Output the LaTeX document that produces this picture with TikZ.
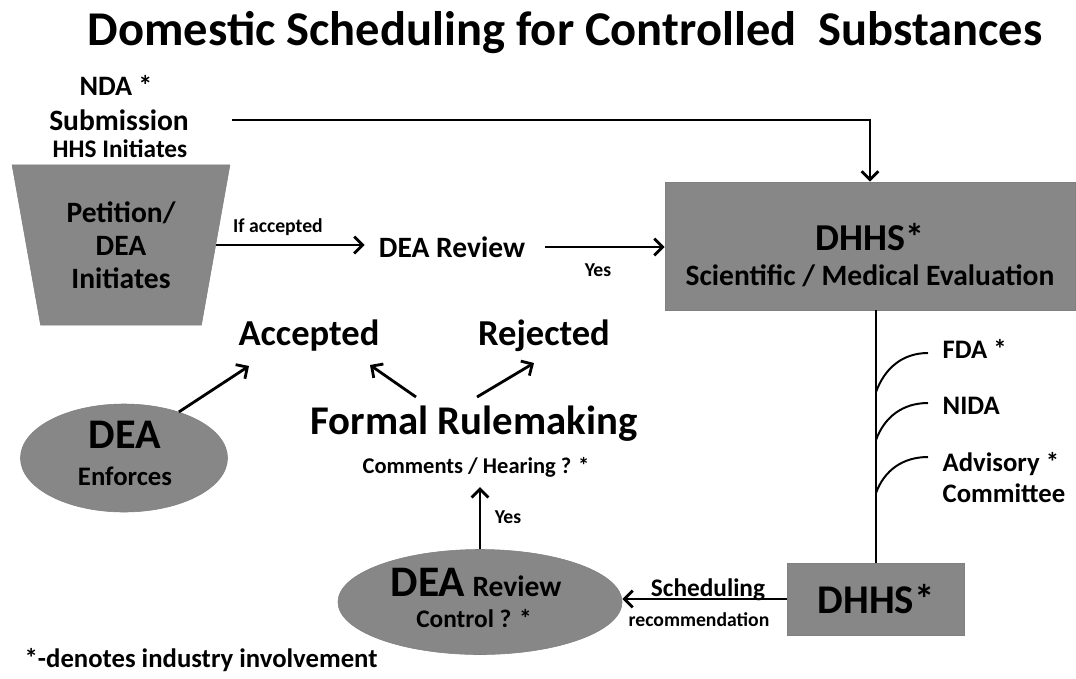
\documentclass[tikz,border=0pt]{standalone}
\usepackage{fontspec}
\setmainfont{Carlito}
\usetikzlibrary{calc}
\usetikzlibrary{shapes.geometric}
\usetikzlibrary{arrows.meta}
\definecolor{screen-gray}{gray}{0.53}
\newcommand{\fsz}[1]{\fontsize{#1pt}{#1pt}\selectfont\bfseries}
\tikzstyle{lbl}=[inner sep=1pt,font=\bfseries]
\tikzstyle{shaded}=[fill=screen-gray,draw=black!50,line width=0.4pt,inner sep=0pt]
\tikzstyle{flow}=[line width=2pt,-{Straight Barb[length=6pt,width=12pt,line width=2pt]}]
\tikzstyle{branch}=[line width=1.4pt]

\begin{document}
\begin{tikzpicture}[x=0.025cm,y=-0.025cm]
\useasboundingbox (0,0) rectangle (1076,678);
% title
\node[lbl,anchor=base] (title) at (565,45) {\fsz{34.5}Domestic Scheduling for Controlled\ \ Substances};
% NDA route
\node[lbl] (nda) at (116,85) {\fsz{20}NDA *};
\node[lbl] (subm) at (119,120) {\fsz{21}Submission};
\node[lbl] (hhs) at (120,149) {\fsz{18}HHS Initiates};
% petition
\node[shaded,trapezium,shape border rotate=180,trapezium stretches=true,
  minimum width=5.45cm,minimum height=4cm,trapezium angle=77.5,align=center,
  font={\fontsize{21pt}{23.5pt}\selectfont\bfseries}] (petition) at (121,245) {Petition/\\DEA\\Initiates};
\node[lbl] (dearev) at (452,247) {\fsz{21}DEA Review};
\node[lbl] (ifacc) at (278,227) {\fsz{14}If accepted};
\draw[flow,shorten >=9pt] (petition.east) -- (petition.east -| dearev.west);
% scientific evaluation
\node[shaded,minimum width=10.25cm,minimum height=3.2cm] (dhhsA) at (870,246) {};
\node[lbl] (dhhsA-t) at (870,237) {\fsz{27}DHHS*};
\node[lbl] (dhhsA-s) at (870,276) {\fsz{21}Scientific / Medical Evaluation};
\draw[flow,shorten <=13pt] (dearev.east) -- (dearev.east -| dhhsA.west);
\node[lbl] (yes1) at (598,270) {\fsz{14}Yes};
\draw[flow] ([xshift=1.05cm]subm.east) -| (dhhsA.north);
% recommendation
\node[shaded,minimum width=4.425cm,minimum height=1.8cm] (dhhsB) at (876,599) {\fsz{29}DHHS*};
\draw[line width=2pt] (dhhsA.south -| dhhsB.north) -- (dhhsB.north);
% agencies on the trunk
\coordinate (b-fda) at (876,392);
\coordinate (b-nida) at (876,440);
\coordinate (b-adv) at (876,493);
\node[lbl,anchor=west] (fda) at (941,349) {\fsz{19}FDA *};
\node[lbl,anchor=west] (nida) at (941,406) {\fsz{19}NIDA};
\node[lbl,anchor=west] (adv) at (941,464) {\fsz{19}Advisory *};
\node[lbl,anchor=west] (comm) at (941,493) {\fsz{19}Committee};
\draw[branch] (b-fda) to[out=70,in=180] ($(fda.west)+(-13,4)$);
\draw[branch] (b-nida) to[out=70,in=180] ($(nida.west)+(-13,-3)$);
\draw[branch] (b-adv) to[out=70,in=180] ($(adv.west)+(-13,-7)$);
% DEA review
\node[shaded,ellipse,minimum width=7.1cm,minimum height=2.625cm] (review) at (480,602) {};
\node[lbl] (review-a) at (476,582) {\fsz{31}DEA\,{\fsz{21}Review}};
\node[lbl] (review-b) at (474,619) {\fsz{18}Control ? *};
\draw[flow] (dhhsB.west) -- (dhhsB.west -| review.east);
\node[lbl] (sched) at (708,590) {\fsz{18}Scheduling};
\node[lbl] (recomm) at (699,620) {\fsz{14}recommendation};
% rulemaking
\node[lbl] (formal) at (474,424) {\fsz{29}Formal Rulemaking};
\node[lbl] (comments) at (476,467) {\fsz{16}Comments / Hearing ? *};
\draw[flow,shorten >=6pt] (review.north) -- (review.north |- comments.south);
\node[lbl] (yes2) at (508,517) {\fsz{14}Yes};
\node[lbl] (accepted) at (309,336) {\fsz{26}Accepted};
\node[lbl] (rejected) at (544,336) {\fsz{26}Rejected};
\draw[flow] ($(formal.center)+(-58,-27)$) -- ($(accepted.center)+(61,29)$);
\draw[flow] ($(formal.center)+(3,-27)$) -- ($(rejected.center)+(-10,27)$);
% enforcement
\node[shaded,ellipse,minimum width=5.175cm,minimum height=2.7cm] (enforces) at (124,458) {};
\node[lbl] (enf-a) at (125,435) {\fsz{30}DEA};
\node[lbl] (enf-b) at (125,476) {\fsz{19}Enforces};
\draw[flow] (enforces.40) -- ($(accepted.center)+(-60,30)$);
% footnote
\node[lbl,anchor=base west] (note) at (23,667) {\fsz{19}*-denotes industry involvement};
\end{tikzpicture}
\end{document}
